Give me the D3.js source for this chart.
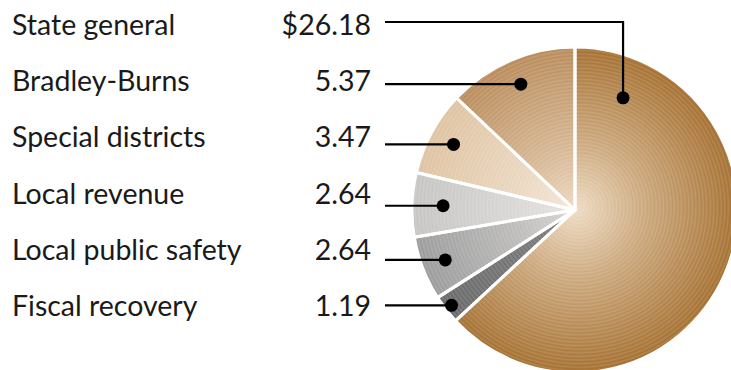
<!DOCTYPE html>
<html><head><meta charset="utf-8">
<script src="https://cdn.jsdelivr.net/npm/d3@7/dist/d3.min.js"></script>
<style>html,body{margin:0;padding:0;background:#fff;}svg{display:block;}</style>
</head><body>
<svg id="c" width="731" height="370"></svg>
<script>
const categories = ["State general","Bradley-Burns","Special districts","Local revenue","Local public safety","Fiscal recovery"];
const values = [26.18, 5.37, 3.47, 2.64, 2.64, 1.19];
const valueLabels = ["$26.18","5.37","3.47","2.64","2.64","1.19"];
// pie drawing order clockwise from 12 o'clock
const sliceOrder = ["State general","Fiscal recovery","Local public safety","Local revenue","Special districts","Bradley-Burns"];

// styling / layout (not data)
const innerColors = {"State general":"#eedbc2","Bradley-Burns":"#ecd8bf","Special districts":"#f3e6d6","Local revenue":"#e6e4e2","Local public safety":"#d6d4d2","Fiscal recovery":"#7e7e7e"};
const outerColors = {"State general":"#a46e2e","Bradley-Burns":"#b88a58","Special districts":"#dec2a0","Local revenue":"#c6c4c2","Local public safety":"#9a9a9a","Fiscal recovery":"#686868"};
const dotRadius = {"State general":122,"Bradley-Burns":137,"Special districts":138,"Local revenue":132,"Local public safety":139,"Fiscal recovery":156};
const W=731,H=370, cx=575, cy=210, R=163;

const svg = d3.select("#c");
const defs = svg.append("defs");
categories.forEach((c,i)=>{
  const g = defs.append("radialGradient").attr("id","g"+i).attr("gradientUnits","userSpaceOnUse")
    .attr("cx",0).attr("cy",0).attr("r",R).attr("fx",0).attr("fy",0);
  g.append("stop").attr("offset",0).attr("stop-color",innerColors[c]);
  g.append("stop").attr("offset",0.4).attr("stop-color",d3.interpolateRgb(innerColors[c],outerColors[c])(0.45));
  g.append("stop").attr("offset",1).attr("stop-color",outerColors[c]);
});
const rings = defs.append("radialGradient").attr("id","rings").attr("gradientUnits","userSpaceOnUse")
  .attr("cx",4).attr("cy",-3).attr("r",3.6).attr("fx",4).attr("fy",-3).attr("spreadMethod","repeat");
rings.append("stop").attr("offset",0).attr("stop-color","#fff").attr("stop-opacity",0);
rings.append("stop").attr("offset",0.5).attr("stop-color","#fff").attr("stop-opacity",0.14);
rings.append("stop").attr("offset",1).attr("stop-color","#fff").attr("stop-opacity",0);

const pieData = sliceOrder.map(n=>({name:n, value:values[categories.indexOf(n)]}));
const pie = d3.pie().sort(null).value(d=>d.value);
const arcs = pie(pieData);
const arc = d3.arc().innerRadius(0).outerRadius(R);

const ag = svg.append("g").attr("transform",`translate(${cx},${cy})`);
ag.selectAll("path.s").data(arcs).join("path").attr("class","s")
  .attr("d",arc).attr("fill",d=>`url(#g${categories.indexOf(d.data.name)})`);
ag.selectAll("path.r").data(arcs).join("path").attr("class","r")
  .attr("d",arc).attr("fill","url(#rings)");
ag.selectAll("path.b").data(arcs).join("path").attr("class","b")
  .attr("d",arc).attr("fill","none").attr("stroke","#fff").attr("stroke-width",3).attr("stroke-linejoin","round");

// labels
const y = d3.scalePoint().domain(categories).range([35, 316]);
const tg = svg.append("g").style("font-family","Lato, 'Open Sans', sans-serif").style("font-size","28.5px").attr("fill","#1a1a1a");
tg.selectAll("text.n").data(categories).join("text").attr("class","n")
  .attr("x",12).attr("y",d=>y(d)).text(d=>d);
tg.selectAll("text.v").data(categories).join("text").attr("class","v")
  .attr("x",371).attr("y",d=>y(d)).attr("text-anchor","end").text((d,i)=>valueLabels[i]);

// leaders
const arcByName = {}; arcs.forEach(a=>arcByName[a.data.name]=a);
const lg = svg.append("g");
categories.forEach((c,i)=>{
  const a = arcByName[c];
  let ang = (a.startAngle+a.endAngle)/2;
  if (c==="State general") ang = a.startAngle + 0.405;
  const r = dotRadius[c];
  const dx = cx + r*Math.sin(ang), dy = cy - r*Math.cos(ang);
  const path = c==="State general" ? `M385,22H${dx}V${dy}` : `M385,${dy}H${dx}`;
  lg.append("path").attr("d",path).attr("fill","none").attr("stroke","#000").attr("stroke-width",2.2);
  lg.append("circle").attr("cx",dx).attr("cy",dy).attr("r",6.5).attr("fill","#000");
});
</script>
</body></html>
